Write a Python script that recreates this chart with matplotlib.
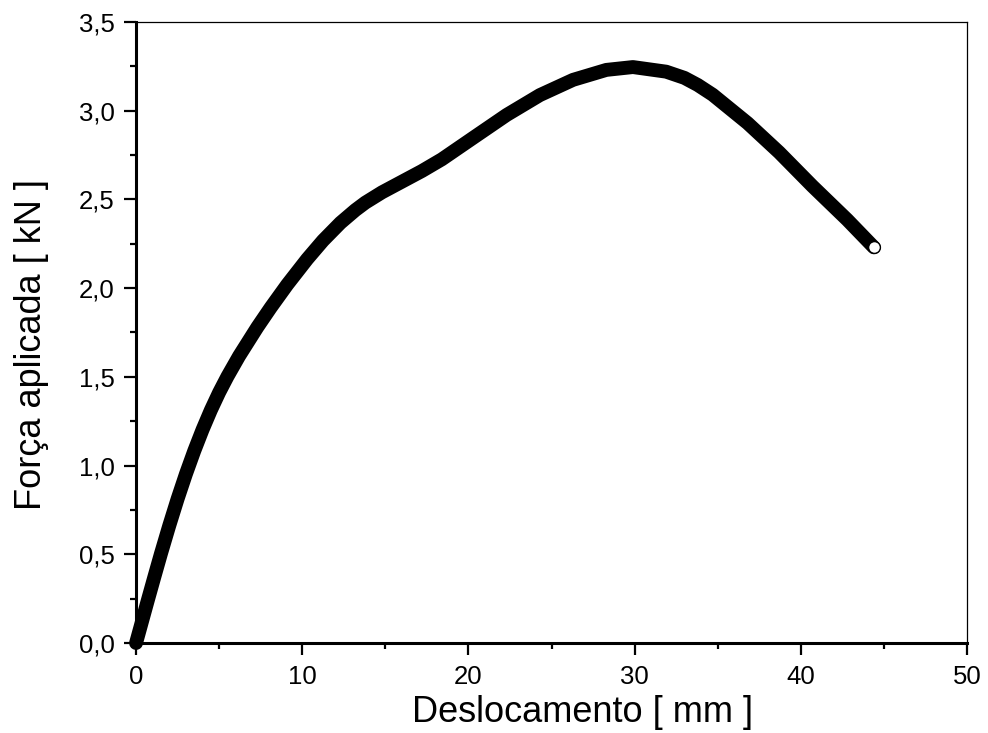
import numpy as np
import matplotlib.pyplot as plt
from matplotlib.ticker import MultipleLocator, FuncFormatter

plt.rcParams['font.family'] = ['Liberation Sans', 'DejaVu Sans']

# Deslocamento [mm] e força aplicada [kN]
deslocamento = [0.0, 0.3, 0.7, 1.1, 1.5, 2.0, 2.5, 3.0, 3.5, 4.0,
                4.5, 5.0, 5.5, 6.2, 7.3, 8.1, 9.1, 10.3, 11.25, 12.3,
                13.2, 13.8, 14.8, 15.7, 17.2, 18.4, 20.3, 22.3, 24.3, 26.3,
                28.3, 29.9, 31.9, 33.0, 33.8, 34.7, 36.8, 38.7, 40.7, 42.8,
                44.4]
forca = [0.0, 0.102, 0.238, 0.372, 0.504, 0.662, 0.812, 0.952, 1.082, 1.202,
         1.312, 1.412, 1.502, 1.617, 1.78, 1.89, 2.02, 2.164, 2.268, 2.368,
         2.44, 2.482, 2.54, 2.585, 2.66, 2.726, 2.848, 2.976, 3.088, 3.174,
         3.23, 3.246, 3.22, 3.185, 3.145, 3.09, 2.93, 2.765, 2.575, 2.385,
         2.23]

fig = plt.figure(figsize=(9.88, 7.33), dpi=100)
ax = fig.add_axes([0.1377, 0.1228, 0.841, 0.8472])

ax.plot(deslocamento, forca, color='black', linewidth=10,
        solid_capstyle='round', solid_joinstyle='round', clip_on=False)
ax.plot(deslocamento[-1], forca[-1], 'o', markersize=8.5, clip_on=False,
        markerfacecolor='white', markeredgecolor='black', markeredgewidth=1)

ax.set_xlim(0, 50)
ax.set_ylim(0, 3.5)
ax.xaxis.set_major_locator(MultipleLocator(10))
ax.xaxis.set_minor_locator(MultipleLocator(5))
ax.yaxis.set_major_locator(MultipleLocator(0.5))
ax.yaxis.set_minor_locator(MultipleLocator(0.25))
ax.yaxis.set_major_formatter(FuncFormatter(lambda v, p: f'{v:.1f}'.replace('.', ',')))

ax.tick_params(which='major', direction='out', length=8.5, width=1.6,
               labelsize=18.5, pad=7)
ax.tick_params(which='minor', direction='out', length=4.5, width=1.6)

ax.spines['left'].set_linewidth(2.2)
ax.spines['bottom'].set_linewidth(2.2)
ax.spines['top'].set_linewidth(0.9)
ax.spines['right'].set_linewidth(0.9)

ax.set_xlabel('Deslocamento [ mm ]', fontsize=26, labelpad=5)
ax.set_ylabel('Força aplicada [ kN ]', fontsize=26, labelpad=21)
# os rótulos no original não estão centrados no eixo
ax.xaxis.label.set_x(0.537)
ax.yaxis.label.set_y(0.48)

fig.savefig('out.png', dpi=100)
